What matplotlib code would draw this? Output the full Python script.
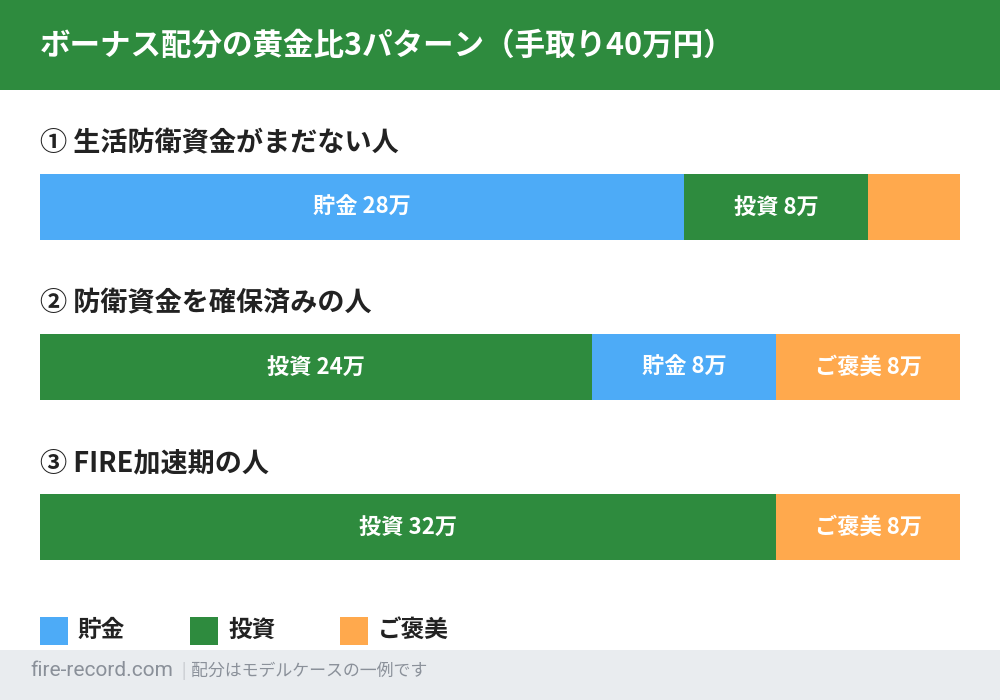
import matplotlib
matplotlib.use("Agg")
import matplotlib.pyplot as plt
from matplotlib.patches import Rectangle

plt.rcParams['font.family'] = ['Noto Sans CJK JP', 'DejaVu Sans']

# データ（単位：万円）
title = "ボーナス配分の黄金比3パターン（手取り40万円）"
patterns = ["① 生活防衛資金がまだない人", "② 防衛資金を確保済みの人", "③ FIRE加速期の人"]
segments = [
    [("貯金", 28), ("投資", 8), ("ご褒美", 4)],
    [("投資", 24), ("貯金", 8), ("ご褒美", 8)],
    [("投資", 32), ("ご褒美", 8)],
]
total = 40
legend_items = ["貯金", "投資", "ご褒美"]
footer_site = "fire-record.com"
footer_note = "配分はモデルケースの一例です"

colors = {"貯金": "#4dabf7", "投資": "#2e8b3e", "ご褒美": "#ffa94d"}
green = "#2e8b3e"
dark = "#222222"

fig = plt.figure(figsize=(10, 7), dpi=100)

# 背景（ピクセル座標）
bg = fig.add_axes([0, 0, 1, 1])
bg.set_xlim(0, 1000)
bg.set_ylim(700, 0)
bg.axis("off")
bg.add_patch(Rectangle((0, 0), 1000, 90, color=green, lw=0))
bg.add_patch(Rectangle((0, 650), 1000, 50, color="#e9ecef", lw=0))
bg.text(40, 46, title, color="white", fontsize=22, fontweight="bold", va="center")

# フッター
bg.text(30, 671, footer_site, color="#8a9099", fontsize=15, va="center",
        family=["Roboto", "DejaVu Sans"])
bg.text(181, 671, "|", color="#c0c4c8", fontsize=11, va="center")
bg.text(191, 671, footer_note, color="#8a9099", fontsize=12.2, va="center")

# 凡例
for i, name in enumerate(legend_items):
    x0 = 40 + i * 150
    bg.add_patch(Rectangle((x0, 617), 28, 28, color=colors[name], lw=0))
    bg.text(x0 + 38, 630, name, color=dark, fontsize=17, fontweight="bold", va="center")

# 棒グラフ（x軸は万円）
ax = fig.add_axes([0.04, 0, 0.92, 1], zorder=2)
ax.set_xlim(0, total)
ax.set_ylim(700, 0)
ax.axis("off")
ax.patch.set_alpha(0)

for k, (label, segs) in enumerate(zip(patterns, segments)):
    yc = 207 + k * 160
    ax.text(0, yc - 64, label, color=dark, fontsize=19.5, fontweight="bold", va="center")
    left = 0
    for name, val in segs:
        ax.barh(yc, val, left=left, height=66, color=colors[name], lw=0)
        if val >= 8:
            ax.text(left + val / 2, yc, f"{name} {val}万", color="white",
                    fontsize=16, fontweight="bold", ha="center", va="center")
        left += val

fig.savefig("out.png", dpi=100)
